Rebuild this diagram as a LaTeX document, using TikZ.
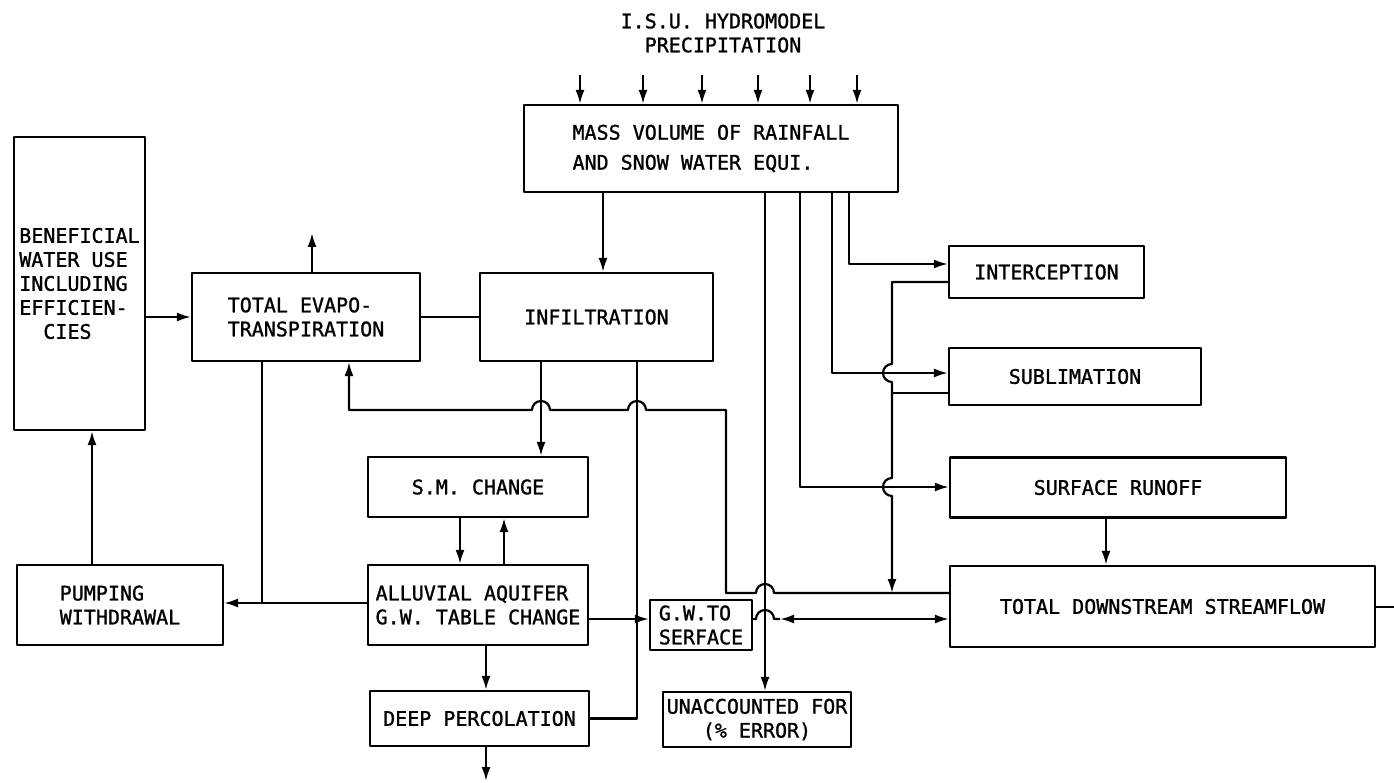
\documentclass[tikz,border=0pt]{standalone}
\usepackage{fontspec}
\newfontfamily\plotfont[FakeBold=1.2]{DejaVu Sans Mono}
\usetikzlibrary{arrows.meta}
\begin{document}
\begin{tikzpicture}[x=1pt,y=-1pt,>={Latex[length=14pt,width=9pt]},line width=2.2pt,line join=round,
	font=\plotfont\fontsize{20}{24}\selectfont,
	box/.style={draw,inner sep=0pt,align=left}]
	\useasboundingbox (0,0) rectangle (1394,783);
	\node[align=center] (title) at (723,33) {I.S.U. HYDROMODEL\\PRECIPITATION};
	\node[box,minimum width=374pt,minimum height=87pt] (mass) at (711,148.5) {MASS VOLUME OF RAINFALL\\[6pt]AND SNOW WATER EQUI.};
	\node[box,minimum width=131pt,minimum height=293pt] (benef) at (79.5,283.5) {BENEFICIAL\\WATER USE\\INCLUDING\\EFFICIEN-\\\phantom{EF}CIES};
	\node[box,minimum width=228pt,minimum height=88pt] (evapo) at (306,317) {TOTAL EVAPO-\\TRANSPIRATION};
	\node[box,minimum width=233pt,minimum height=88pt] (infil) at (596.5,317) {INFILTRATION};
	\node[box,minimum width=220pt,minimum height=60pt] (sm) at (478,487) {S.M. CHANGE};
	\node[box,minimum width=220pt,minimum height=80pt] (alluv) at (478,605) {ALLUVIAL AQUIFER\\G.W. TABLE CHANGE};
	\node[box,minimum width=206pt,minimum height=80pt] (pump) at (120,605) {PUMPING\\WITHDRAWAL};
	\node[box,minimum width=219pt,minimum height=55pt] (deep) at (479.5,718.5) {DEEP PERCOLATION};
	\node[box,minimum width=102pt,minimum height=50pt] (gw) at (701,625) {G.W.TO\\SERFACE};
	\node[box,align=center,minimum width=188pt,minimum height=55pt] (unacc) at (757,719.5) {UNACCOUNTED FOR\\(\% ERROR)};
	\node[box,minimum width=195pt,minimum height=52pt] (interc) at (1046.5,272) {INTERCEPTION};
	\node[box,minimum width=252pt,minimum height=57pt] (subl) at (1075,376.5) {SUBLIMATION};
	\node[box,minimum width=336pt,minimum height=60pt] (runoff) at (1118,487.5) {SURFACE RUNOFF};
	\node[box,minimum width=425pt,minimum height=81pt] (stream) at (1162.5,606.5) {TOTAL DOWNSTREAM STREAMFLOW};
	\coordinate (out) at (1394,607);
	\coordinate (sink) at (486,781);
	\coordinate (vapour) at (312,233);
	\foreach \x in {580,643,702,758,810,857}
		\draw[->] (\x,75) -- (\x,0 |- mass.north);
	\draw[->] (603,0 |- mass.south) -- (603,0 |- infil.north);
	\draw[->] (765,0 |- mass.south) -- (765,0 |- unacc.north);
	\draw[->] (849,0 |- mass.south) |- (interc.west |- 0,264);
	\draw[->] (832,0 |- mass.south) |- (subl.west |- 0,373);
	\draw[->] (800,0 |- mass.south) |- (runoff.west |- 0,487);
	\draw (subl.west |- 0,393) -- (892,393);
	\draw[->] (interc.west |- 0,282) -- (892,282) -- (892,364) arc (90:270:9pt) -- (892,478) arc (90:270:9pt) -- (892,593);
	\draw[->] (1106,0 |- runoff.south) -- (1106,0 |- stream.north);
	\draw (stream.east |- out) -- (out);
	\draw[->] (312,0 |- evapo.north) -- (vapour);
	\draw[->] (benef.east |- evapo.west) -- (evapo.west);
	\draw (evapo) -- (infil);
	\draw[->] (541,0 |- infil.south) -- (541,0 |- sm.north);
	\draw (637,0 |- infil.south) |- (deep.east);
	\draw[->] (stream.west |- 0,593) -- (774,593) arc (0:180:9pt) -- (726,593) -- (726,410) -- (646,410) arc (0:180:9pt) -- (550,410) arc (0:180:9pt) -- (349,410) -- (349,0 |- evapo.south);
	\draw (262,0 |- evapo.south) -- (262,603);
	\draw[->] (460,0 |- sm.south) -- (460,0 |- alluv.north);
	\draw[->] (504,0 |- alluv.north) -- (504,0 |- sm.south);
	\draw[->] (alluv.west |- 0,603) -- (pump.east |- 0,603);
	\draw[->] (92,0 |- pump.north) -- (92,0 |- benef.south);
	\draw[->] (486,0 |- alluv.south) -- (486,0 |- deep.north);
	\draw[->] (486,0 |- deep.south) -- (sink);
	\draw[->] (alluv.east |- 0,619) -- (gw.west |- 0,619);
	\draw (gw.east |- 0,619) -- (756,619) arc (180:0:9pt) -- (780,619);
	\draw[<->] (780,619) -- (stream.west |- 0,619);
\end{tikzpicture}
\end{document}
